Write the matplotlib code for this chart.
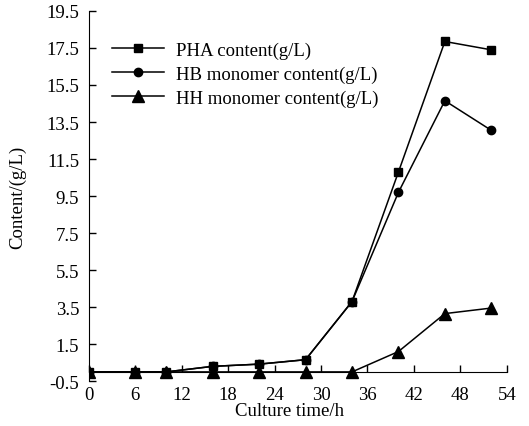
import numpy as np
import matplotlib.pyplot as plt

plt.rcParams['font.family'] = ['Liberation Serif', 'DejaVu Serif']

# culture time (h)
hours = [0, 6, 10, 16, 22, 28, 34, 40, 46, 52]

# contents in g/L
pha = [0, 0, 0, 0.3, 0.42, 0.66, 3.8, 10.8, 17.85, 17.4]
hb = [0, 0, 0, 0.3, 0.42, 0.66, 3.8, 9.7, 14.65, 13.05]
hh = [0, 0, 0, 0, 0, 0, 0, 1.1, 3.15, 3.45]

x_ticks = np.arange(0, 55, 6)
y_ticks = np.arange(-0.5, 19.6, 2)

fig = plt.figure(figsize=(5.29, 4.27), dpi=100)
ax = fig.add_axes([0.168, 0.105, 0.79, 0.867])

ax.plot(hours, pha, color='black', lw=1.1, marker='s', ms=6, label='PHA content(g/L)')
ax.plot(hours, hb, color='black', lw=1.1, marker='o', ms=6, label='HB monomer content(g/L)')
ax.plot(hours, hh, color='black', lw=1.1, marker='^', ms=8, label='HH monomer content(g/L)')

ax.set_xlim(0, 54)
ax.set_ylim(-0.5, 19.5)
ax.set_xticks(x_ticks)
ax.set_yticks(y_ticks)
ax.set_yticklabels(['%.1f' % v for v in y_ticks])

ax.spines['top'].set_visible(False)
ax.spines['right'].set_visible(False)
ax.spines['bottom'].set_position(('data', 0))

ax.tick_params(axis='both', direction='in', length=5, width=1, labelsize=13.5)
ax.tick_params(axis='x', pad=10)
ax.tick_params(axis='y', pad=7)

ax.set_xlabel('Culture time/h', fontsize=13.5)
ax.set_ylabel('Content/(g/L)', fontsize=13.5)
ax.xaxis.set_label_coords(0.48, -0.055)
ax.yaxis.set_label_coords(-0.15, 0.5)

ax.legend(loc='upper left', bbox_to_anchor=(0.055, 0.918), frameon=False,
          fontsize=13.5, handlelength=2.8, handletextpad=0.6, labelspacing=0.36,
          borderpad=0, borderaxespad=0)

fig.savefig('out.png', dpi=100)
